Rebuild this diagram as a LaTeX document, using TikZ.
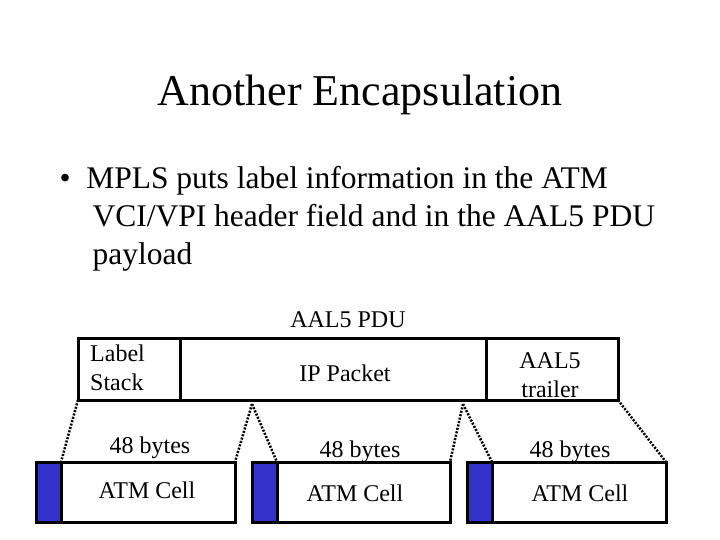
\documentclass[tikz,border=0pt]{standalone}
\usepackage{fontspec}
\setmainfont{Liberation Serif}
\definecolor{cellblue}{RGB}{51,51,204}
\begin{document}
\begin{tikzpicture}[x=1pt,y=-1pt,
  box/.style={draw,line width=3pt},
  dots/.style={line width=2.5pt,dash pattern=on 2pt off 1.5pt},
  lbl/.style={font=\fontsize{24}{26}\selectfont},
  blk/.style={font=\fontsize{24}{29}\selectfont,align=left}]
\useasboundingbox (0,0) rectangle (720,540);
\node (title) at (360,95) {\fontsize{44}{48}\selectfont Another Encapsulation};
\node[anchor=north west,align=left,font=\fontsize{31.5}{38}\selectfont] (bul) at (56,163)
 {\textbullet\ \ MPLS puts label information in the ATM\\
  \hspace{33pt}VCI/VPI header field and in the AAL5 PDU\\
  \hspace{33pt}payload};
\node[lbl] (pdu) at (348,320) {AAL5 PDU};
\draw[box] (78,338) rectangle (618,400);
\draw[box] (180,338) -- (180,400);
\draw[box] (486,338) -- (486,400);
\node[blk,anchor=north west,inner sep=0pt] (ls) at (90,345) {Label\\Stack};
\node[lbl] (ip) at (345,373) {IP Packet};
\node[blk,align=center] (tr) at (550,375) {AAL5\\trailer};
\coordinate (t1) at (78,400); \coordinate (t2) at (252,404);
\coordinate (t3) at (463,404); \coordinate (t4) at (618,400);
\foreach \i/\l/\r in {1/36/235,2/252/450,3/467/666}{
  \fill[cellblue] (\l,462) rectangle (\l+25,522);
  \draw[box] (\l,462) rectangle (\r,522);
  \draw[box] (\l+25,462) -- (\l+25,522);
  \coordinate (c\i l) at (\l+25,462); \coordinate (c\i r) at (\r,462);
}
\draw[dots] (t1) -- (c1l); \draw[dots] (t2) -- (c1r); \draw[dots] (t2) -- (c2l);
\draw[dots] (t3) -- (c2r); \draw[dots] (t3) -- (c3l); \draw[dots] (t4) -- (c3r);
\node[lbl] (b1) at (150,448) {48 bytes};
\node[lbl] (b2) at (360,452) {48 bytes};
\node[lbl] (b3) at (570,452) {48 bytes};
\node[lbl] (a1) at (147,490) {ATM Cell};
\node[lbl] (a2) at (355,493) {ATM Cell};
\node[lbl] (a3) at (580,493) {ATM Cell};
\end{tikzpicture}
\end{document}
